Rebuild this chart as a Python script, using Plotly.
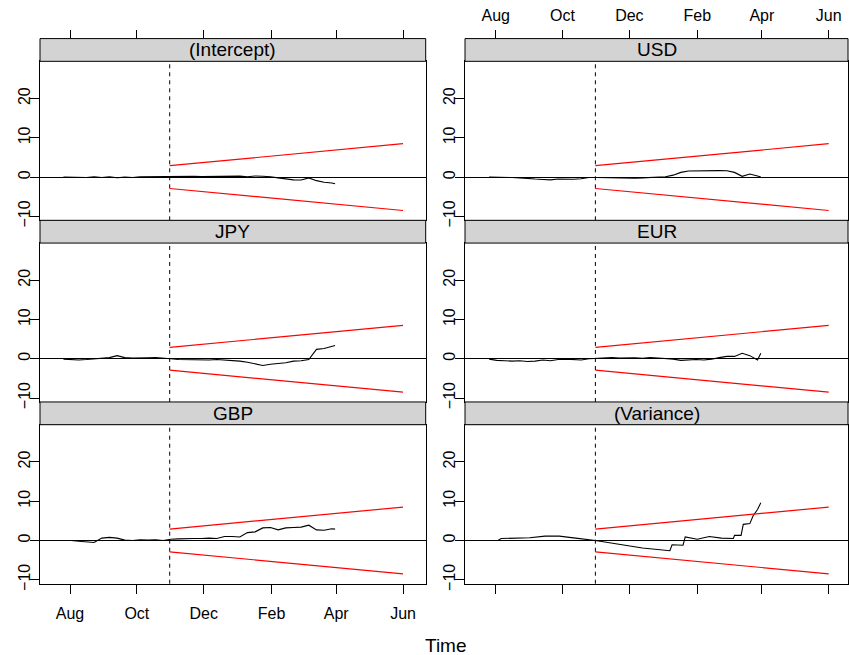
import plotly.graph_objects as go

# ---------------- data ----------------
dates = ["2005-07-26", "2005-08-02", "2005-08-09", "2005-08-16", "2005-08-23", "2005-08-30",
         "2005-09-06", "2005-09-13", "2005-09-20", "2005-09-27", "2005-10-04", "2005-10-11",
         "2005-10-18", "2005-10-25", "2005-11-01", "2005-11-08", "2005-11-15", "2005-11-22",
         "2005-11-29", "2005-12-06", "2005-12-13", "2005-12-20", "2005-12-27", "2006-01-03",
         "2006-01-10", "2006-01-17", "2006-01-24", "2006-01-31", "2006-02-07", "2006-02-14",
         "2006-02-21", "2006-02-28", "2006-03-07", "2006-03-14", "2006-03-21", "2006-03-28",
         "2006-03-31"]

intercept = [0.0, -0.05, -0.2, -0.1, 0.1, -0.1, 0.05, -0.15, 0.0, -0.1, 0.05, 0.1,
             0.05, 0.15, 0.1, 0.2, 0.25, 0.2, 0.15, 0.2, 0.15, 0.3, 0.2, 0.25,
             0.1, 0.3, 0.2, 0.1, -0.2, -0.5, -0.7, -0.75, -0.2, -0.9, -1.3, -1.5, -1.7]

usd = [0.0, 0.0, 0.05, -0.1, -0.2, -0.4, -0.5, -0.6, -0.7, -0.5, -0.6, -0.55,
       -0.4, -0.1, -0.1, -0.15, -0.2, -0.25, -0.2, -0.3, -0.2, -0.1, -0.05, 0.1,
       0.5, 1.2, 1.55, 1.6, 1.7, 1.7, 1.65, 1.6, 1.2, 0.2, 0.8, 0.3, 0.0]

jpy = [-0.1, -0.2, -0.3, -0.2, 0.0, 0.1, 0.3, 0.8, 0.3, 0.2, 0.3, 0.25,
       0.3, 0.2, 0.0, -0.2, -0.25, -0.3, -0.25, -0.3, -0.2, -0.35, -0.4, -0.6,
       -0.9, -1.3, -1.7, -1.4, -1.2, -1.0, -0.6, -0.5, -0.2, 2.4, 2.6, 3.2, 3.4]

eur = [-0.1, -0.4, -0.5, -0.6, -0.5, -0.7, -0.6, -0.3, -0.5, -0.2, -0.1, -0.2,
       -0.3, 0.0, 0.1, 0.2, 0.3, 0.2, 0.3, 0.25, 0.1, 0.3, 0.2, 0.1,
       -0.1, -0.4, -0.3, -0.2, -0.3, -0.1, 0.3, 0.6, 0.6, 1.4, 0.8, -0.3, 1.4]

gbp = [0.0, 0.0, -0.2, -0.4, -0.5, 0.6, 0.8, 0.6, 0.1, 0.0, 0.2, 0.1,
       0.2, 0.0, 0.3, 0.4, 0.5, 0.5, 0.5, 0.6, 0.5, 1.0, 1.0, 0.9,
       2.0, 2.2, 3.2, 3.3, 2.7, 3.2, 3.3, 3.4, 3.9, 2.7, 2.6, 3.0, 2.9]

var_dates = ["2005-07-26", "2005-08-03", "2005-08-06", "2005-08-20", "2005-09-01", "2005-09-15",
             "2005-09-28", "2005-10-13", "2005-10-26", "2005-10-31", "2005-11-20", "2005-12-13",
             "2006-01-07", "2006-01-09", "2006-01-19", "2006-01-21", "2006-02-01", "2006-02-12",
             "2006-02-23", "2006-03-06", "2006-03-07", "2006-03-13", "2006-03-15", "2006-03-21",
             "2006-03-24", "2006-03-28", "2006-03-31"]
variance = [0.0, 0.0, 0.5, 0.6, 0.7, 1.1, 1.1, 0.6, 0.3, 0.0, -0.9, -1.9,
            -2.6, -1.1, -1.2, 0.9, 0.3, 1.0, 0.6, 0.5, 1.3, 1.3, 4.1, 4.3,
            6.3, 7.9, 9.6]

bound_dates = ["2005-10-31", "2006-06-01"]
bound_upper = [2.9, 8.5]
bound_lower = [-2.9, -8.5]
monitor_start = "2005-10-31"

panel_names = ["(Intercept)", "USD", "JPY", "EUR", "GBP", "(Variance)"]
series_x = [dates, dates, dates, dates, dates, var_dates]
series_y = [intercept, usd, jpy, eur, gbp, variance]

x_tickvals = ["2005-08-01", "2005-10-01", "2005-12-01", "2006-02-01", "2006-04-01", "2006-06-01"]
x_ticktext = ["Aug", "Oct", "Dec", "Feb", "Apr", "Jun"]
y_tickvals = [-10, 0, 10, 20]
y_ticktext = ["\u221210", "0", "10", "20"]

# ---------------- layout geometry ----------------
W, H = 849, 655
FONT = "Liberation Sans, Arial, Helvetica, sans-serif"
col_px = [(40, 425.7), (465, 848)]
col_range = [["2005-07-04 14:38", "2006-06-21 17:00"], ["2005-07-03 23:17", "2006-06-18 14:24"]]
rows_px = [(39, 62, 222.7), (222.7, 245.7, 406.3), (406.3, 429.3, 590)]
y_range = [-11.0, 29.47]


def px2x(p):
    return p / W


def px2y(p):
    return 1 - p / H


fig = go.Figure()
shapes = []
annotations = []

for i, name in enumerate(panel_names):
    r, c = divmod(i, 2)
    k = i + 1
    xa = "x" if k == 1 else f"x{k}"
    ya = "y" if k == 1 else f"y{k}"
    fig.add_trace(go.Scatter(x=series_x[i], y=series_y[i], mode="lines",
                             line=dict(color="black", width=1.1), xaxis=xa, yaxis=ya,
                             showlegend=False, hoverinfo="skip"))
    fig.add_trace(go.Scatter(x=bound_dates, y=bound_upper, mode="lines",
                             line=dict(color="#FF0000", width=1.2), xaxis=xa, yaxis=ya,
                             showlegend=False, hoverinfo="skip"))
    fig.add_trace(go.Scatter(x=bound_dates, y=bound_lower, mode="lines",
                             line=dict(color="#FF0000", width=1.2), xaxis=xa, yaxis=ya,
                             showlegend=False, hoverinfo="skip"))

    x0p, x1p = col_px[c]
    st, pt, pb = rows_px[r]
    bottom = (r == 2)
    fig.layout[f"xaxis{k}"] = dict(
        domain=[px2x(x0p), px2x(x1p)], anchor=ya, type="date",
        range=col_range[c], autorange=False,
        showline=True, mirror=True, linecolor="black", linewidth=1,
        showgrid=False, zeroline=False,
        tickmode="array", tickvals=x_tickvals, ticktext=x_ticktext,
        ticks="outside" if bottom else "", ticklen=9, tickcolor="black",
        showticklabels=bottom and c == 0,
        ticklabelstandoff=6,
        tickfont=dict(family=FONT, size=16, color="black"),
    )
    fig.layout[f"yaxis{k}"] = dict(
        domain=[px2y(pb), px2y(pt)], anchor=xa,
        range=y_range, autorange=False,
        showline=True, mirror=True, linecolor="black", linewidth=1,
        showgrid=False, zeroline=True, zerolinecolor="black", zerolinewidth=1,
        tickmode="array", tickvals=y_tickvals, ticktext=y_ticktext,
        ticks="outside", ticklen=9, tickcolor="black", tickangle=-90,
        ticklabelstandoff=-6,
        tickfont=dict(family=FONT, size=16, color="black"),
    )
    # dashed monitoring start line
    shapes.append(dict(type="line", xref=xa, yref=f"{ya} domain",
                       x0=monitor_start, x1=monitor_start, y0=0, y1=1,
                       line=dict(color="black", width=1, dash="4px,4px")))
    # strip
    shapes.append(dict(type="rect", xref="paper", yref="paper",
                       x0=px2x(x0p), x1=px2x(x1p), y0=px2y(pt), y1=px2y(st),
                       fillcolor="#D3D3D3", line=dict(color="black", width=1), layer="above"))
    annotations.append(dict(text=name, xref="paper", yref="paper",
                            x=px2x((x0p + x1p) / 2), y=px2y((st + pt) / 2),
                            xanchor="center", yanchor="middle", showarrow=False,
                            font=dict(family=FONT, size=19, color="black")))

# top tick axes (above top strips)
for c, (k, base) in enumerate([(7, "x"), (8, "x2")]):
    x0p, x1p = col_px[c]
    fig.add_trace(go.Scatter(x=[], y=[], xaxis=f"x{k}", yaxis="y" if c == 0 else "y2",
                             showlegend=False, hoverinfo="skip"))
    fig.layout[f"xaxis{k}"] = dict(
        domain=[px2x(x0p), px2x(x1p)], anchor="free", position=px2y(39),
        overlaying=base, side="top", type="date",
        range=col_range[c], autorange=False,
        showline=False, showgrid=False, zeroline=False,
        tickmode="array", tickvals=x_tickvals, ticktext=x_ticktext,
        ticks="outside", ticklen=9, tickcolor="black",
        showticklabels=(c == 1), ticklabelstandoff=2,
        tickfont=dict(family=FONT, size=16, color="black"),
    )

annotations.append(dict(text="Time", xref="paper", yref="paper",
                        x=px2x(446), y=px2y(652), xanchor="center", yanchor="middle",
                        showarrow=False, font=dict(family=FONT, size=19, color="black")))

fig.update_layout(width=W, height=H, autosize=False,
                  margin=dict(l=0, r=0, t=0, b=0),
                  paper_bgcolor="white", plot_bgcolor="white",
                  shapes=shapes, annotations=annotations,
                  font=dict(family=FONT, color="black"))

fig.write_html("out.html", config={"displayModeBar": False},
               post_script="document.body.style.margin='0';document.body.style.padding='0';")
